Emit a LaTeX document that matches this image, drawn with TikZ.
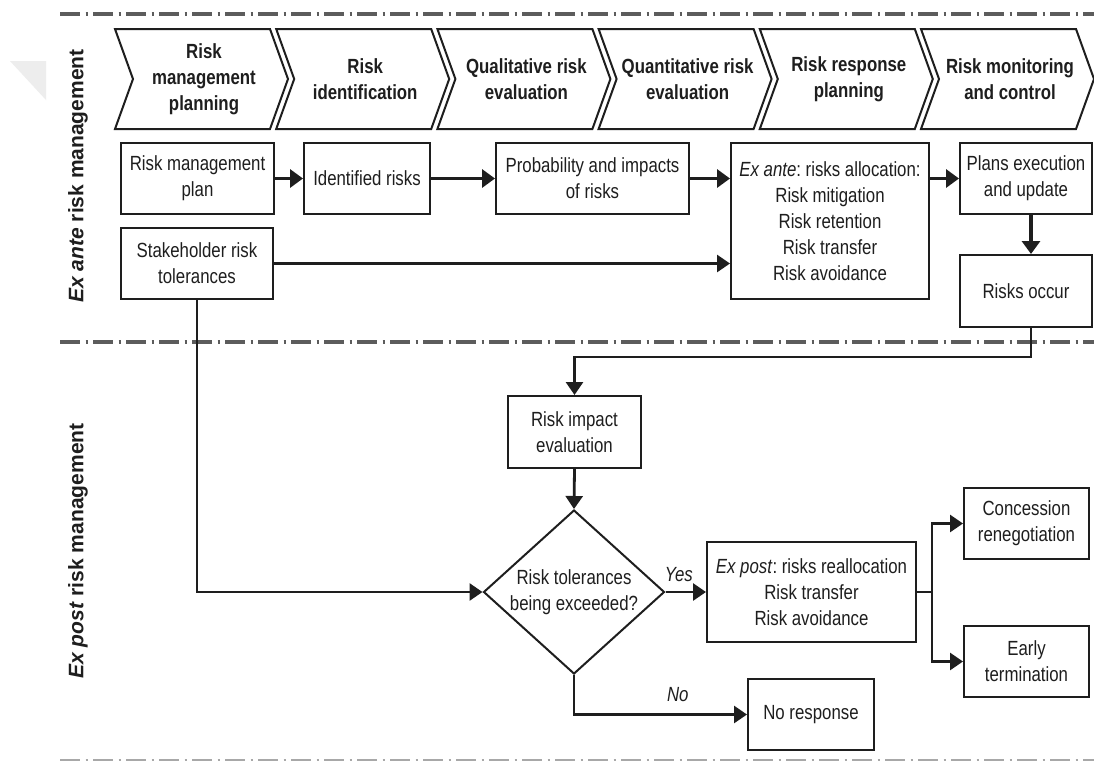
\documentclass[tikz,border=0pt]{standalone}
\usepackage{fontspec}
\setmainfont{Liberation Sans}[FakeStretch=0.82]
\newfontfamily\sidefont{Liberation Sans}
\usetikzlibrary{arrows.meta,shapes.geometric,calc}
\definecolor{ink}{HTML}{1E1E1E}
\definecolor{sepline}{HTML}{5C5C5C}
\definecolor{sepfaint}{HTML}{A8A8A8}
\definecolor{ghost}{HTML}{EDEDED}
\frenchspacing

\begin{document}
\begin{tikzpicture}[x=1pt,y=-1pt,
  every node/.style={text=ink, font=\fontsize{20.5}{26}\selectfont},
  box/.style={draw=ink, line width=2pt, align=center, inner sep=0pt},
  chev/.style={draw=ink, line width=2pt, line join=miter},
  chevtext/.style={align=center, font=\bfseries\fontsize{20.5}{26}\selectfont},
  link/.style={draw=ink, line width=2.8pt, line join=miter},
  arr/.style={link, -{Triangle[length=13pt,width=17pt]}},
  arrthick/.style={draw=ink, line width=3.8pt, -{Triangle[length=13pt,width=18pt]}},
  sep/.style={draw=sepline, line width=3.5pt, dash pattern=on 20pt off 5.5pt on 2pt off 5.5pt},
  sidelabel/.style={rotate=90, font=\sidefont\bfseries\fontsize{21}{24}\selectfont},
  tag/.style={font=\itshape\fontsize{20.5}{26}\selectfont, inner sep=2pt}
]
% page
\fill[white] (0,0) rectangle (1094,763);
\useasboundingbox (0,0) rectangle (1094,763);

% faint mark in the corner
\fill[ghost] (10,61) -- (46,61) -- (46,100) -- cycle;

% section separators
\draw[sep] (60,14) -- (1094,14);
\draw[sep] (60,342) -- (1094,342);
\draw[sep, draw=sepfaint, line width=2.5pt] (60,760) -- (1094,760);

% section labels
\node[sidelabel] (antelbl) at (78,176) {\textit{Ex ante} risk management};
\node[sidelabel] (postlbl) at (78,551) {\textit{Ex post} risk management};

% process chevrons
\foreach \i/\t in {0/{Risk\\management\\planning},
                   1/{Risk\\identification},
                   2/{Qualitative risk\\evaluation},
                   3/{Quantitative risk\\evaluation},
                   4/{Risk response\\planning},
                   5/{Risk monitoring\\and control}}{
  \pgfmathsetmacro\L{115+161.2*\i}
  \draw[chev] (\L,29) -- ++(155,0) -- ++(18,50) -- ++(-18,50) -- ++(-155,0) -- ++(18,-50) -- cycle;
  \node[chevtext] (ch\i) at (\L+89,79) {\t};
}

% ex ante boxes
\node[box, minimum width=153pt, minimum height=71pt] (plan) at (197.5,178.5) {Risk management\\plan};
\node[box, minimum width=126pt, minimum height=71pt] (ident) at (367,178.5) {Identified risks};
\node[box, minimum width=193pt, minimum height=71pt] (prob) at (592.5,178.5) {Probability and impacts\\of risks};
\node[box, minimum width=198pt, minimum height=156pt] (ante) at (830,221) {\textit{Ex ante}: risks allocation:\\Risk mitigation\\Risk retention\\Risk transfer\\Risk avoidance};
\node[box, minimum width=132pt, minimum height=71pt] (plans) at (1026,178.5) {Plans execution\\and update};
\node[box, minimum width=152pt, minimum height=71pt] (stake) at (197,263.5) {Stakeholder risk\\tolerances};
\node[box, minimum width=132pt, minimum height=72pt] (occur) at (1026,291) {Risks occur};

% ex post boxes
\node[box, minimum width=133pt, minimum height=72pt] (impact) at (574.5,432) {Risk impact\\evaluation};
\node[diamond, draw=ink, line width=2pt, minimum width=181pt, minimum height=164pt, inner sep=0pt] (dec) at (574,592) {};
\node[align=center] (dectext) at (dec.center) {Risk tolerances\\being exceeded?};
\node[box, minimum width=209pt, minimum height=100pt] (expost) at (811.5,592) {\textit{Ex post}: risks reallocation\\Risk transfer\\Risk avoidance};
\node[box, minimum width=126pt, minimum height=71pt] (noresp) at (811,714.5) {No response};
\node[box, minimum width=125pt, minimum height=71pt] (conc) at (1026.5,523.5) {Concession\\renegotiation};
\node[box, minimum width=125pt, minimum height=71pt] (early) at (1026.5,661.5) {Early\\termination};

% ex ante flow
\draw[arrthick] (plan) -- (ident);
\draw[arrthick] (ident) -- (prob);
\draw[arrthick] (prob.east) -- (prob.east -| ante.west);
\draw[arrthick] (plans.west -| ante.east) -- (plans.west);
\draw[arr] (stake.east) -- (stake.east -| ante.west);
\draw[arrthick] ([xshift=5pt]plans.south) -- ([xshift=5pt]occur.north);

% ex post flow
\draw[arr] ([xshift=5pt]occur.south) -- ++(0,29) -| (impact.north);
\draw[arr] (impact.south) -- (dec.north);
\draw[arr] (stake.south) |- (dec.west);
\draw[arr] (dec.east) -- node[tag, pos=0.33, above=7pt] {Yes} (expost.west);
\draw[arr] (dec.south) |- node[tag, pos=0.8, above=9pt] {No} (noresp.west);
\draw[link] (expost.east) -- ++(15,0) coordinate (fork);
\draw[arr] (fork) |- (conc.west);
\draw[arr] (fork) |- (early.west);
\end{tikzpicture}
\end{document}
